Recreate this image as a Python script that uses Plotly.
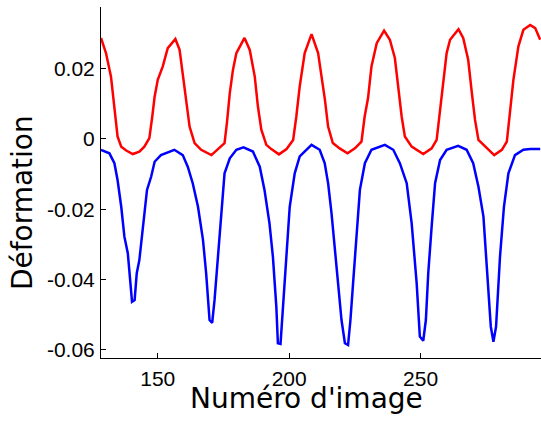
import plotly.graph_objects as go

# Red curve (upper)
red_x = [128.4, 130.3, 132.2, 133.5, 134.7, 136.1, 138.0, 140.5, 143.0, 144.9, 146.8, 147.9,
         148.8, 150.0, 151.9, 153.8, 156.7, 158.3, 159.5, 160.9, 162.1, 164.0, 166.5, 170.4,
         172.9, 175.4, 176.3, 177.4, 178.6, 179.9, 183.0, 185.0, 186.9, 188.1, 189.4, 191.3,
         193.2, 196.1, 199.0, 201.5, 202.7, 204.0, 205.9, 208.5, 211.0, 212.2, 213.6, 214.8,
         216.6, 219.2, 222.2, 225.0, 227.5, 228.7, 230.0, 231.3, 233.3, 236.1, 238.3, 240.2,
         241.4, 242.8, 244.0, 246.6, 251.0, 254.2, 256.1, 257.4, 258.6, 259.9, 261.2, 264.4,
         266.2, 268.1, 269.5, 270.7, 272.0, 274.5, 278.0, 280.9, 282.8, 284.1, 285.3, 287.2,
         289.1, 291.7, 293.6, 295.5]
red_y = [0.0287, 0.0244, 0.0177, 0.0083, 0.0007, -0.0022, -0.0033, -0.0043, -0.0036, -0.0022, 0.0002, 0.0063,
         0.0120, 0.0168, 0.0206, 0.0258, 0.0284, 0.0253, 0.0187, 0.0111, 0.0035, -0.0012, -0.0031, -0.0046,
         -0.0029, -0.0012, 0.0045, 0.0130, 0.0196, 0.0244, 0.0287, 0.0253, 0.0177, 0.0092, 0.0026, -0.0017,
         -0.0029, -0.0044, -0.0029, -0.0003, 0.0063, 0.0149, 0.0244, 0.0298, 0.0244, 0.0187, 0.0111, 0.0035,
         -0.0012, -0.0027, -0.0041, -0.0027, -0.0008, 0.0063, 0.0116, 0.0206, 0.0272, 0.0308, 0.0282, 0.0230,
         0.0149, 0.0063, 0.0007, -0.0022, -0.0043, -0.0027, -0.0003, 0.0083, 0.0168, 0.0244, 0.0282, 0.0312,
         0.0287, 0.0225, 0.0130, 0.0054, -0.0003, -0.0022, -0.0046, -0.0031, -0.0008, 0.0083, 0.0168, 0.0263,
         0.0310, 0.0324, 0.0315, 0.0282]

# Blue curve (lower)
blue_x = [128.4, 131.6, 133.5, 134.7, 136.1, 137.3, 138.6, 139.4, 140.2, 141.2, 142.0, 143.0,
          144.3, 145.9, 147.5, 148.8, 151.2, 156.3, 159.5, 161.4, 163.3, 165.3, 167.2, 168.4,
          169.7, 170.7, 171.6, 172.9, 174.1, 175.4, 177.4, 179.9, 182.6, 186.2, 188.8, 190.6,
          192.5, 193.8, 195.1, 195.7, 196.7, 197.6, 198.9, 200.2, 202.1, 204.0, 208.5, 211.6,
          213.5, 214.8, 216.1, 217.3, 218.6, 219.9, 221.2, 222.4, 223.3, 224.3, 225.6, 226.9,
          228.8, 231.3, 236.4, 239.6, 242.1, 244.7, 246.6, 248.5, 249.7, 251.0, 252.0, 252.9,
          254.2, 255.5, 257.4, 259.9, 264.3, 267.5, 270.0, 272.0, 273.9, 275.4, 276.7, 277.7,
          278.7, 280.2, 281.7, 283.4, 285.9, 289.1, 291.7, 295.5]
blue_y = [-0.0031, -0.0041, -0.0069, -0.0117, -0.0193, -0.0278, -0.0325, -0.0401, -0.0463, -0.0458, -0.0382, -0.0344,
          -0.0249, -0.0145, -0.0107, -0.0065, -0.0046, -0.0031, -0.0046, -0.0079, -0.0126, -0.0193, -0.0287, -0.0382,
          -0.0515, -0.0523, -0.0458, -0.0335, -0.0202, -0.0098, -0.0055, -0.0031, -0.0024, -0.0036, -0.0079, -0.0145,
          -0.0240, -0.0335, -0.0477, -0.0581, -0.0583, -0.0477, -0.0335, -0.0193, -0.0098, -0.0050, -0.0017, -0.0031,
          -0.0069, -0.0126, -0.0211, -0.0316, -0.0411, -0.0515, -0.0581, -0.0586, -0.0515, -0.0411, -0.0278, -0.0145,
          -0.0069, -0.0031, -0.0017, -0.0031, -0.0069, -0.0126, -0.0240, -0.0411, -0.0562, -0.0574, -0.0515, -0.0382,
          -0.0249, -0.0126, -0.0060, -0.0031, -0.0020, -0.0031, -0.0069, -0.0136, -0.0221, -0.0382, -0.0534, -0.0577,
          -0.0534, -0.0335, -0.0193, -0.0098, -0.0046, -0.0031, -0.0029, -0.0029]

x_ticks = [150, 200, 250]
y_ticks = [-0.06, -0.04, -0.02, 0, 0.02]
y_tick_text = ["-0.06", "-0.04", "-0.02", "0", "0.02"]

fig = go.Figure()
fig.add_trace(go.Scatter(x=red_x, y=red_y, mode="lines",
                         line=dict(color="#ff0000", width=2.5), showlegend=False))
fig.add_trace(go.Scatter(x=blue_x, y=blue_y, mode="lines",
                         line=dict(color="#0000ff", width=2.5), showlegend=False))

tick_font = dict(family="Liberation Sans, Arial, sans-serif", size=21, color="black")
fig.update_layout(
    width=541, height=421,
    margin=dict(l=101, r=0, t=7, b=63),
    paper_bgcolor="white", plot_bgcolor="white",
    xaxis=dict(range=[128.4, 295.8], tickvals=x_ticks, ticktext=[str(v) for v in x_ticks],
               ticks="inside", ticklen=5, tickcolor="black", showline=True, linecolor="black",
               linewidth=1, showgrid=False, zeroline=False, tickfont=tick_font,
               ticklabelstandoff=2),
    yaxis=dict(range=[-0.0623, 0.0375], tickvals=y_ticks, ticktext=y_tick_text,
               ticks="inside", ticklen=5, tickcolor="black", showline=True, linecolor="black",
               linewidth=1, showgrid=False, zeroline=False, tickfont=tick_font,
               ticklabelstandoff=1),
    annotations=[
        dict(text="Numéro d'image", xref="paper", yref="paper", x=0.468, y=-0.115,
             xanchor="center", yanchor="middle", showarrow=False,
             font=dict(family="DejaVu Sans", size=28, color="black")),
        dict(text="Déformation", xref="paper", yref="paper", x=-0.177, y=0.4416,
             xanchor="center", yanchor="middle", showarrow=False, textangle=-90,
             font=dict(family="DejaVu Sans", size=28, color="black")),
    ],
)

fig.write_html("out.html", config={"displayModeBar": False},
               post_script="document.body.style.margin='0';")
